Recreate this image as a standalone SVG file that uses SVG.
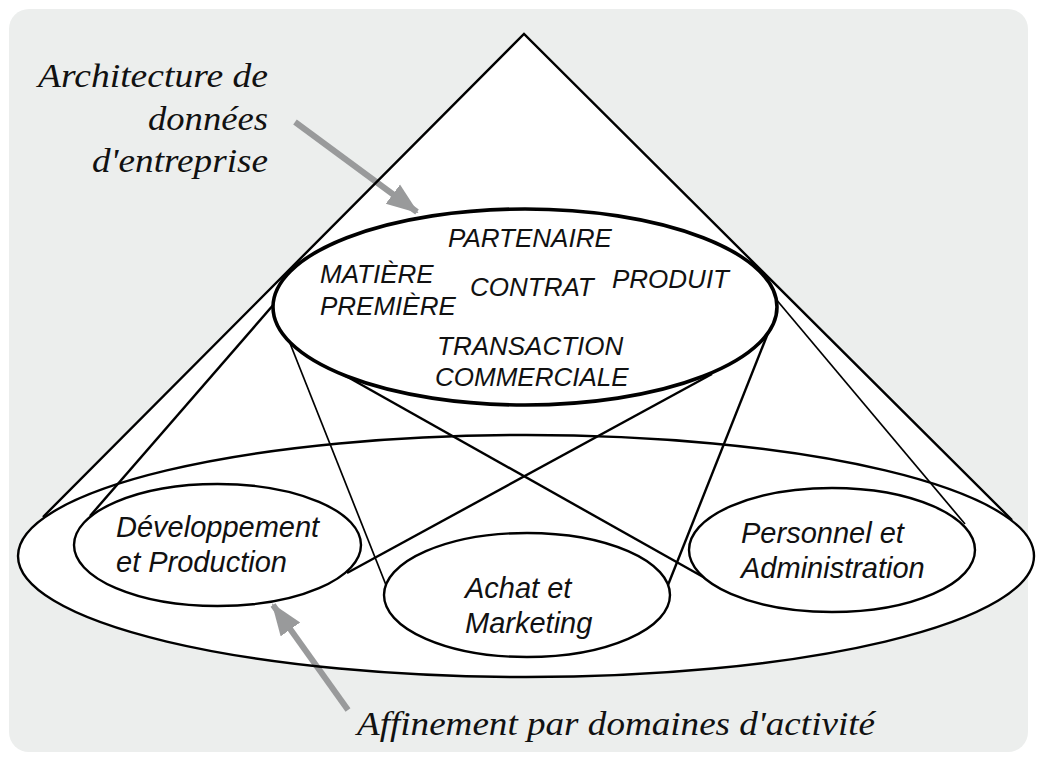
<svg xmlns="http://www.w3.org/2000/svg" width="1037" height="761" viewBox="0 0 1037 761">
<style>
.bg{fill:#eceeed}
.white{fill:#ffffff;stroke:none}
.edge{fill:none;stroke:#000;stroke-width:2.4}
.thin{fill:none;stroke:#000;stroke-width:1.7}
.node{fill:#fff;stroke:#000;stroke-width:2.4}
.top{fill:#fff;stroke:#000;stroke-width:3.6}
.arrow{stroke:#999a9b;stroke-width:6;fill:none}
.lab{font-family:"Liberation Sans",Arial,sans-serif;font-style:italic;font-size:29px;fill:#111}
.ent{font-family:"Liberation Sans",Arial,sans-serif;font-style:italic;font-size:26px;fill:#111}
.note{font-family:"Liberation Serif","Times New Roman",serif;font-style:italic;font-size:33px;fill:#111}
</style>
<defs>
<marker id="head" markerUnits="userSpaceOnUse" markerWidth="32" markerHeight="26" refX="30" refY="13" orient="auto" viewBox="0 0 32 26">
<polygon points="0,1 32,13 0,25" fill="#999a9b"/>
</marker>
</defs>
<rect class="bg" x="9" y="9" width="1019" height="743" rx="20"/>
<g id="cone-fill">
<polygon class="white" points="524,34 43,517 1012,520"/>
<ellipse class="white" cx="526" cy="556" rx="508" ry="121"/>
</g>
<g id="arrows">
<line class="arrow" x1="295" y1="122" x2="417" y2="212" marker-end="url(#head)"/>
<line class="arrow" x1="348" y1="710" x2="273" y2="605" marker-end="url(#head)"/>
</g>
<g id="cone">
<polyline class="edge" points="43,517 524,34 1012,520"/>
</g>
<g id="domaines-activite">
<ellipse class="edge" cx="526" cy="556" rx="508" ry="121"/>
</g>
<g id="connectors">
<line class="edge" x1="281" y1="296" x2="90" y2="516"/>
<line class="thin" x1="276" y1="308" x2="386" y2="585"/>
<line class="edge" x1="321" y1="362" x2="705" y2="578"/>
<line class="edge" x1="712" y1="374" x2="347" y2="573"/>
<line class="edge" x1="770" y1="328" x2="668" y2="585"/>
<line class="thin" x1="775" y1="298" x2="965" y2="524"/>
</g>
<g id="developpement-production">
<ellipse class="node" cx="217.5" cy="545" rx="143.5" ry="61"/>
<text class="lab" x="116" y="537">Développement</text>
<text class="lab" x="116" y="572">et Production</text>
</g>
<g id="achat-marketing">
<ellipse class="node" cx="527" cy="595" rx="143" ry="62"/>
<text class="lab" x="465" y="598">Achat et</text>
<text class="lab" x="465" y="633">Marketing</text>
</g>
<g id="personnel-administration">
<ellipse class="node" cx="832" cy="550" rx="143" ry="62"/>
<text class="lab" x="741" y="543">Personnel et</text>
<text class="lab" x="741" y="578">Administration</text>
</g>
<g id="architecture-donnees">
<ellipse class="top" cx="525" cy="307" rx="252" ry="98"/>
<text class="ent" x="448" y="247">PARTENAIRE</text>
<text class="ent" x="320" y="283">MATIÈRE</text>
<text class="ent" x="320" y="315">PREMIÈRE</text>
<text class="ent" x="470" y="296">CONTRAT</text>
<text class="ent" x="612" y="288">PRODUIT</text>
<text class="ent" x="437" y="355">TRANSACTION</text>
<text class="ent" x="435" y="386">COMMERCIALE</text>
</g>
<g id="annotations">
<text class="note" x="268" y="87" text-anchor="end" textLength="230" lengthAdjust="spacingAndGlyphs">Architecture de</text>
<text class="note" x="268" y="130" text-anchor="end" textLength="120" lengthAdjust="spacingAndGlyphs">données</text>
<text class="note" x="268" y="172" text-anchor="end" textLength="176" lengthAdjust="spacingAndGlyphs">d'entreprise</text>
<text class="note" x="357" y="735" textLength="518" lengthAdjust="spacingAndGlyphs">Affinement par domaines d'activité</text>
</g>
</svg>
